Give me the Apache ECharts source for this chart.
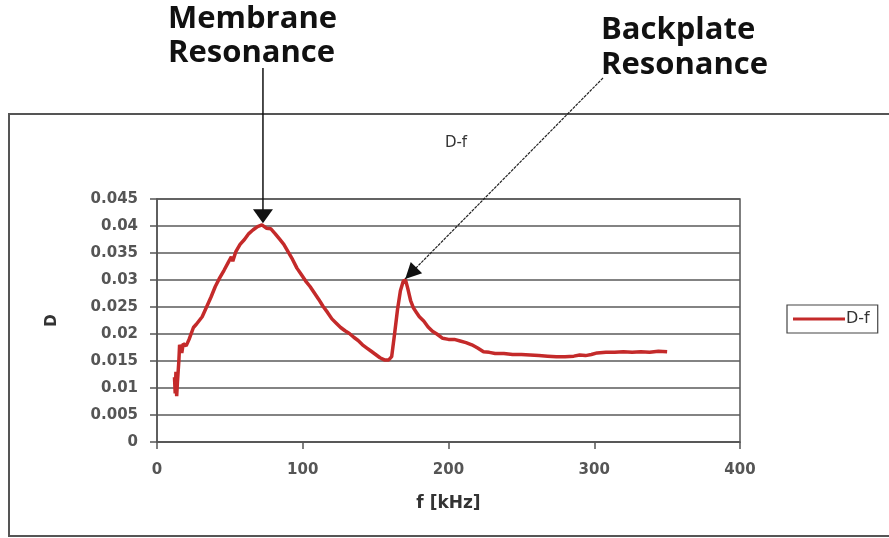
<!DOCTYPE html>
<html>
<head>
<meta charset="utf-8">
<script src="https://cdn.jsdelivr.net/npm/echarts@6/dist/echarts.min.js"></script>
<style>
  html, body { margin: 0; padding: 0; background: #fff; }
  #chart { width: 889px; height: 538px; }
</style>
</head>
<body>
<div id="chart"></div>
<script>
// frequency [kHz] and D values
var freq = [12, 12.5, 13, 13.5, 14, 15, 15.5, 17, 18, 20, 22, 25, 27, 29, 31, 34, 37, 40, 43, 46, 49, 51, 52, 54, 57, 60, 63, 66, 69, 72, 75, 78, 81, 84, 87, 90, 93, 96, 99, 102, 105, 108, 111, 114, 117, 120, 123, 126, 129, 132, 135, 138, 141, 144, 147, 150, 153, 156, 159, 161, 163, 165, 167, 169, 170.5, 172, 174, 176, 178, 180, 183, 186, 189, 192, 196, 200, 204, 208, 212, 216, 220, 224, 228, 232, 238, 244, 250, 256, 262, 268, 274, 280, 286, 290, 294, 298, 302, 308, 314, 320, 326, 332, 338, 344, 350];
var dVals = [0.0120, 0.0090, 0.0130, 0.0085, 0.0110, 0.0150, 0.0180, 0.0165, 0.0182, 0.0178, 0.0190, 0.0212, 0.0218, 0.0225, 0.0232, 0.0250, 0.0268, 0.0288, 0.0304, 0.0318, 0.0333, 0.0343, 0.0335, 0.0352, 0.0366, 0.0375, 0.0386, 0.0393, 0.0399, 0.0402, 0.0396, 0.0395, 0.0386, 0.0376, 0.0366, 0.0352, 0.0338, 0.0322, 0.0310, 0.0298, 0.0288, 0.0276, 0.0264, 0.0251, 0.0240, 0.0228, 0.0220, 0.0212, 0.0206, 0.0201, 0.0194, 0.0188, 0.0180, 0.0174, 0.0168, 0.0162, 0.0156, 0.0152, 0.0152, 0.0158, 0.0200, 0.0245, 0.0280, 0.0298, 0.0300, 0.0285, 0.0262, 0.0248, 0.0240, 0.0232, 0.0224, 0.0213, 0.0205, 0.0200, 0.0192, 0.0190, 0.0190, 0.0187, 0.0184, 0.0180, 0.0174, 0.0167, 0.0166, 0.0164, 0.0164, 0.0162, 0.0162, 0.0161, 0.0160, 0.0159, 0.0158, 0.0158, 0.0159, 0.0161, 0.0160, 0.0162, 0.0165, 0.0166, 0.0166, 0.0167, 0.0166, 0.0167, 0.0166, 0.0168, 0.0167];

// annotations: label lines and the data point each arrow points at
var annoLabels = [['Membrane', 'Resonance'], ['Backplate', 'Resonance']];
var annoTips = [[72.7, 0.0405], [170.3, 0.0302]];

var chart = echarts.init(document.getElementById('chart'));

var seriesData = freq.map(function (f, i) { return [f, dVals[i]]; });

var tickFont = { fontFamily: 'DejaVu Sans', fontSize: 15, fontWeight: 'bold', color: '#555' };

var option = {
    animation: false,
    title: {
        text: 'D-f',
        left: 451,
        top: 131,
        textAlign: 'center',
        textStyle: { fontFamily: 'DejaVu Sans', fontSize: 15, fontWeight: 'normal', color: '#333' }
    },
    legend: {
        left: 787,
        top: 305,
        orient: 'vertical',
        data: [{ name: 'D-f', icon: 'rect' }],
        itemWidth: 52,
        itemHeight: 3,
        padding: [6, 8, 6, 6],
        borderColor: '#444',
        borderWidth: 1.2,
        textStyle: { fontFamily: 'DejaVu Sans', fontSize: 16, color: '#333', padding: [0, 0, 0, -4] }
    },
    grid: {
        left: 157, right: 149, top: 199, bottom: 96,
        show: true,
        borderColor: '#555',
        borderWidth: 1.5,
        backgroundColor: '#fff'
    },
    xAxis: {
        type: 'value',
        min: 0, max: 400, interval: 100,
        name: 'f [kHz]',
        nameLocation: 'middle',
        nameGap: 53,
        nameTextStyle: { fontFamily: 'DejaVu Sans', fontSize: 17, fontWeight: 'bold', color: '#333' },
        axisLine: { lineStyle: { color: '#555', width: 1.5 } },
        axisTick: { show: true, length: 7, lineStyle: { color: '#555', width: 1.5 } },
        axisLabel: Object.assign({ margin: 21 }, tickFont),
        splitLine: { show: false }
    },
    yAxis: {
        type: 'value',
        min: 0, max: 0.045, interval: 0.005,
        name: 'D',
        nameLocation: 'middle',
        nameRotate: 90,
        nameGap: 97,
        nameTextStyle: { fontFamily: 'DejaVu Sans', fontSize: 15, fontWeight: 'bold', color: '#333' },
        axisLine: { show: true, lineStyle: { color: '#555', width: 1.5 } },
        axisTick: { show: true, length: 7, lineStyle: { color: '#555', width: 1.5 } },
        axisLabel: Object.assign({ margin: 19 }, tickFont),
        splitLine: { show: true, lineStyle: { color: '#5a5a5a', width: 1.6 } }
    },
    series: [{
        name: 'D-f',
        type: 'line',
        data: seriesData,
        symbol: 'none',
        lineStyle: { color: '#c42a2a', width: 3.5 },
        itemStyle: { color: '#c42a2a' }
    }]
};

chart.setOption(option);

// annotation arrows and labels, placed from the data tips
var tip1 = chart.convertToPixel({ gridIndex: 0 }, annoTips[0]);
var tip2 = chart.convertToPixel({ gridIndex: 0 }, annoTips[1]);

function arrowHead(tip, from, len, half) {
    var dx = tip[0] - from[0], dy = tip[1] - from[1];
    var d = Math.sqrt(dx * dx + dy * dy);
    var ux = dx / d, uy = dy / d;
    var bx = tip[0] - ux * len, by = tip[1] - uy * len;
    return [tip, [bx - uy * half, by + ux * half], [bx + uy * half, by - ux * half]];
}

var labelFont = { fontFamily: 'Open Sans', fontSize: 31, fontWeight: 'bold', fill: '#111' };
var start1 = [tip1[0], 68];
var start2 = [603, 78];

var graphics = [
    {
        type: 'rect', z: -1,
        shape: { x: 9, y: 114, width: 900, height: 422 },
        style: { fill: 'none', stroke: '#555', lineWidth: 2 }
    },
    {
        type: 'text', left: 168, top: 2,
        style: Object.assign({ text: annoLabels[0].join('\n'), lineHeight: 34 }, labelFont)
    },
    {
        type: 'text', left: 601, top: 13,
        style: Object.assign({ text: annoLabels[1].join('\n'), lineHeight: 35 }, labelFont)
    },
    {
        type: 'line', z: 100,
        shape: { x1: start1[0], y1: start1[1], x2: tip1[0], y2: tip1[1] - 8 },
        style: { stroke: '#111', lineWidth: 1.5 }
    },
    {
        type: 'polygon', z: 100,
        shape: { points: arrowHead(tip1, start1, 14, 10) },
        style: { fill: '#111' }
    },
    {
        type: 'line', z: 100,
        shape: { x1: start2[0], y1: start2[1], x2: tip2[0], y2: tip2[1] },
        style: { stroke: '#222', lineWidth: 1.2, lineDash: [3, 1] }
    },
    {
        type: 'polygon', z: 100,
        shape: { points: arrowHead(tip2, start2, 16, 8) },
        style: { fill: '#111' }
    }
];

chart.setOption({ graphic: graphics });
</script>
</body>
</html>
